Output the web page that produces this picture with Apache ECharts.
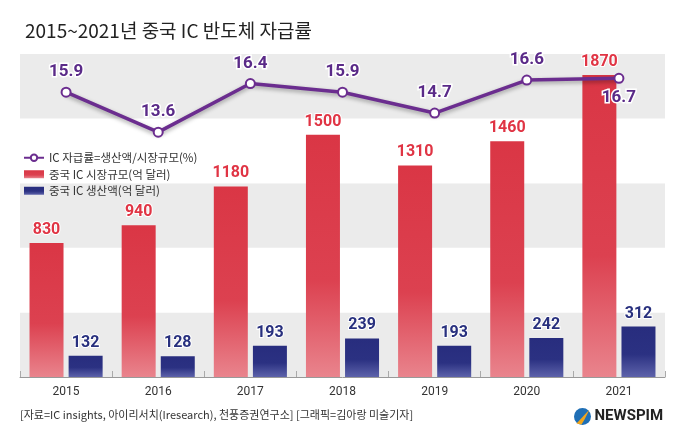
<!DOCTYPE html>
<html>
<head>
<meta charset="utf-8">
<script src="https://cdn.jsdelivr.net/npm/echarts@6/dist/echarts.min.js"></script>
<style>
html,body{margin:0;padding:0;background:#fff;}
#c{width:680px;height:442px;}
</style>
</head>
<body>
<div id="c"></div>
<script>
const years = ['2015','2016','2017','2018','2019','2020','2021'];
const marketSize = [830, 940, 1180, 1500, 1310, 1460, 1870];
const production = [132, 128, 193, 239, 193, 242, 312];
const selfRate = [15.9, 13.6, 16.4, 15.9, 14.7, 16.6, 16.7];
const seriesNames = ['IC 자급률=생산액/시장규모(%)', '중국 IC 시장규모(억 달러)', '중국 IC 생산액(억 달러)'];
const titleText = '2015~2021년 중국 IC 반도체 자급률';
const sourceText = '[자료=IC insights, 아이리서치(Iresearch), 천풍증권연구소] [그래픽=김아랑 미술기자]';

const chart = echarts.init(document.getElementById('c'));
const KR = '"Noto Sans CJK KR", "Noto Sans", sans-serif';
const NUM = 'Roboto, "Noto Sans", sans-serif';

const rateData = selfRate.map((v, i) => i === selfRate.length - 1
  ? { value: v, label: { position: 'bottom', distance: 5 } }
  : v);

const option = {
  backgroundColor: '#ffffff',
  animation: false,
  title: {
    text: titleText,
    left: 20, top: 16,
    textStyle: { fontFamily: KR, fontSize: 19, fontWeight: 'normal', color: '#222' }
  },
  legend: {
    orient: 'vertical',
    left: 18, top: 147,
    itemGap: 5,
    itemWidth: 20, itemHeight: 8,
    data: [
      { name: seriesNames[0] },
      { name: seriesNames[1], icon: 'rect' },
      { name: seriesNames[2], icon: 'rect' }
    ],
    textStyle: { fontFamily: KR, fontSize: 11.5, color: '#333' }
  },
  grid: { left: 20, right: 15, top: 54, bottom: 65 },
  xAxis: {
    type: 'category',
    data: years,
    axisLine: { lineStyle: { color: '#999', width: 1 } },
    axisTick: { show: true, inside: true, length: 6, interval: 0, lineStyle: { color: '#aaa' } },
    axisLabel: { fontFamily: NUM, fontSize: 12, color: '#333', margin: 9 }
  },
  yAxis: [
    {
      type: 'value', min: 0, max: 2000, interval: 400,
      axisLine: { show: false }, axisTick: { show: false }, axisLabel: { show: false },
      splitLine: { show: false },
      splitArea: { show: true, areaStyle: { color: ['#ebebeb', '#ffffff'] } }
    },
    {
      type: 'value', min: -0.5, max: 18.1,
      show: false, splitLine: { show: false }
    }
  ],
  series: [
    {
      name: seriesNames[0],
      type: 'line',
      yAxisIndex: 1,
      data: rateData,
      z: 5,
      symbol: 'circle',
      symbolSize: 9,
      itemStyle: { color: '#ffffff', borderColor: '#6b2d8f', borderWidth: 2 },
      lineStyle: { color: '#6b2d8f', width: 3.5, shadowColor: 'rgba(0,0,0,0.35)', shadowBlur: 4, shadowOffsetY: 2 },
      label: {
        show: true,
        position: 'top',
        distance: 6,
        fontFamily: NUM, fontSize: 17, fontWeight: 'bold',
        color: '#5a2a88', textBorderColor: '#ffffff', textBorderWidth: 3,
        formatter: p => Number(p.value).toFixed(1)
      }
    },
    {
      name: seriesNames[1],
      type: 'bar',
      data: marketSize,
      barWidth: 34,
      barGap: '15%',
      itemStyle: {
        color: new echarts.graphic.LinearGradient(0, 0, 0, 1, [
          { offset: 0, color: '#da3645' },
          { offset: 0.6, color: '#dc4150' },
          { offset: 1, color: '#e9848d' }
        ])
      },
      label: {
        show: true, position: 'top', distance: 5,
        fontFamily: NUM, fontSize: 16, fontWeight: 'bold',
        color: '#e03444', textBorderColor: '#ffffff', textBorderWidth: 2
      }
    },
    {
      name: seriesNames[2],
      type: 'bar',
      data: production,
      barWidth: 34,
      itemStyle: {
        color: new echarts.graphic.LinearGradient(0, 0, 0, 1, [
          { offset: 0, color: '#282d7e' },
          { offset: 0.55, color: '#2b3182' },
          { offset: 1, color: '#5d62aa' }
        ])
      },
      label: {
        show: true, position: 'top', distance: 5,
        fontFamily: NUM, fontSize: 16, fontWeight: 'bold',
        color: '#28307e', textBorderColor: '#ffffff', textBorderWidth: 2
      }
    }
  ],
  graphic: [
    {
      type: 'text', left: 20, top: 409,
      style: { text: sourceText, fontFamily: KR, fontSize: 11, fill: '#333' }
    },
    {
      type: 'group', left: 574, top: 408,
      children: [
        { type: 'circle', shape: { cx: 9, cy: 9, r: 8.5 }, style: { fill: '#1f6fb5' } },
        { type: 'polygon', shape: { points: [[3, 16], [16, 2], [11, 12], [8, 17]] }, style: { fill: '#f2a51a' } },
        { type: 'text', x: 21, y: 1, style: { text: 'NEWSPIM', fontFamily: 'Roboto, sans-serif', fontSize: 15, fontWeight: 'bold', fill: '#222' } }
      ]
    }
  ]
};
chart.setOption(option);
</script>
</body>
</html>
